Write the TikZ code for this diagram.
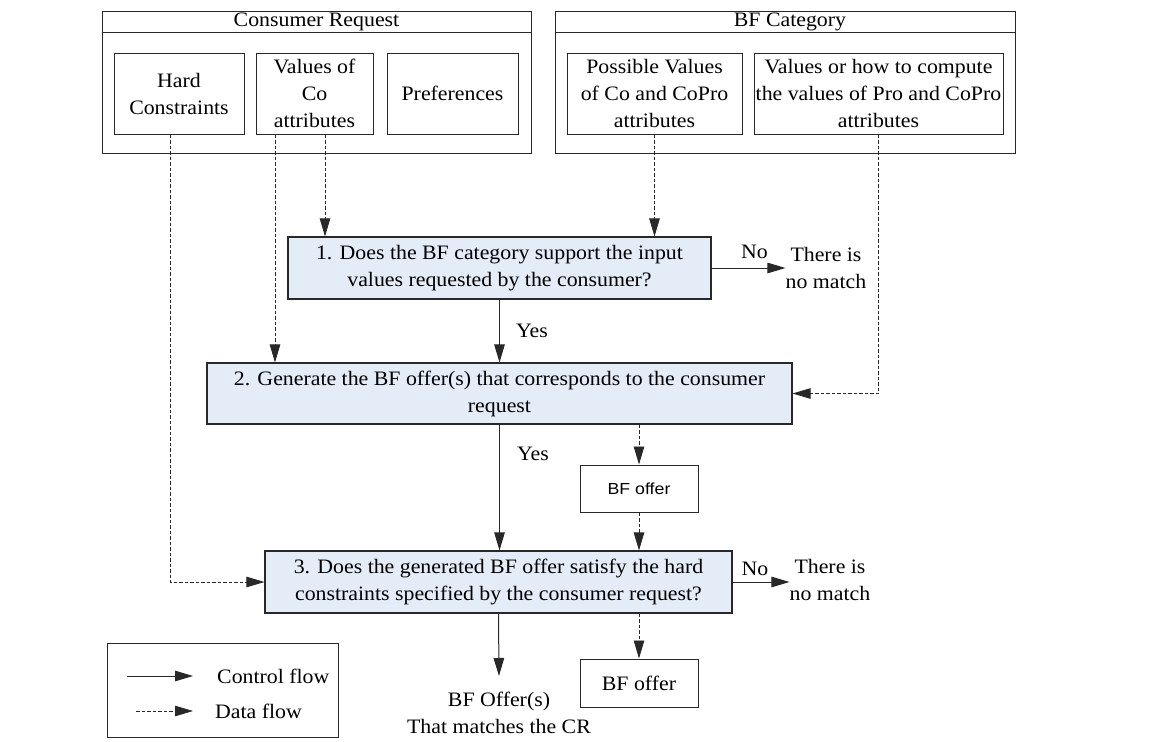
\documentclass[tikz,border=0pt]{standalone}
\usepackage{fontspec}
\setmainfont{Liberation Serif}[FakeStretch=1.065]
\newfontfamily\arialf{Liberation Sans}[FakeStretch=1.11]
\usetikzlibrary{arrows.meta,calc}
\definecolor{stepfill}{RGB}{228,236,247}
\definecolor{linec}{RGB}{40,40,40}
\begin{document}
\begin{tikzpicture}[x=1pt,y=-1pt,
  every node/.style={font=\fontsize{20.5pt}{27pt}\selectfont, inner sep=0pt, text=black},
  box/.style={draw=linec, line width=1pt, align=center},
  stepbox/.style={box, fill=stepfill, line width=1.1pt},
  ctrl/.style={draw=linec, line width=1pt, -{Triangle[length=18pt,width=10.5pt]}},
  data/.style={draw=linec, line width=0.8pt, dash pattern=on 3.5pt off 2pt, -{Triangle[length=18pt,width=10.5pt]}},
  lbl/.style={align=center}]
\useasboundingbox (0,0) rectangle (1171,742);

% Consumer Request group
\node[box, minimum width=429pt, minimum height=142pt] (cr) at (316.5,82) {};
\draw[linec, line width=1.6pt] ($(cr.north west)+(0,22)$) -- ($(cr.north east)+(0,22)$);
\node (crt) at (316.5,22) {Consumer Request};
\node[box, minimum width=130pt, minimum height=81pt] (hc) at (179,93.5) {Hard\\Constraints};
\node[box, minimum width=117pt, minimum height=81pt] (vc) at (314.5,93.5) {Values of\\Co\\attributes};
\node[box, minimum width=131pt, minimum height=81pt] (pref) at (452.5,93.5) {Preferences};

% BF Category group
\node[box, minimum width=460pt, minimum height=142pt] (bfc) at (785,82) {};
\draw[linec, line width=1.6pt] ($(bfc.north west)+(0,22)$) -- ($(bfc.north east)+(0,22)$);
\node (bfct) at (790,22) {BF Category};
\node[box, minimum width=175pt, minimum height=81pt] (pv) at (654.5,93.5) {Possible Values\\of Co and CoPro\\attributes};
\node[box, minimum width=249pt, minimum height=81pt] (vh) at (878.5,93.5) {Values or how to compute\\the values of Pro and CoPro\\attributes};

% Steps
\node[stepbox, minimum width=423pt, minimum height=62pt] (s1) at (499.5,268) {1. Does the BF category support the input\\values requested by the consumer?};
\node[lbl] (nm1) at (826,268) {There is\\no match};
\node[stepbox, minimum width=585pt, minimum height=61pt] (s2) at (499.5,393.5) {2. Generate the BF offer(s) that corresponds to the consumer\\request};
\node[box, minimum width=118pt, minimum height=47pt, font=\arialf\fontsize{16pt}{20pt}\selectfont] (bo1) at (639,488.5) {BF offer};
\node[stepbox, minimum width=467pt, minimum height=62pt] (s3) at (498.5,582) {3. Does the generated BF offer satisfy the hard\\constraints specified by the consumer request?};
\node[lbl] (nm2) at (830,580) {There is\\no match};
\node[lbl] (out) at (499,713) {BF Offer(s)\\That matches the CR};
\node[box, minimum width=118pt, minimum height=48pt] (bo2) at (639,683) {BF offer};

% Data flows from inputs
\draw[data] ([xshift=-9pt]hc.south) |- (s3.west);
\draw[data] ([xshift=-39.5pt]vc.south) -- ([xshift=-39.5pt]vc.south |- s2.north);
\draw[data] ([xshift=10.5pt]vc.south) -- ([xshift=10.5pt]vc.south |- s1.north);
\draw[data] (pv.south) -- (pv.south |- s1.north);
\draw[data] (vh.south) |- (s2.east);

% Control flow
\draw[ctrl] (s1.east) -- node[above=9pt, xshift=6pt] (no1) {No} (nm1.west);
\draw[ctrl] (s1.south) -- node[right=16pt] (yes1) {Yes} (s1.south |- s2.north);
\draw[ctrl] (s2.south) -- node[pos=0.23, right=17pt] (yes2) {Yes} (s2.south |- s3.north);
\draw[ctrl] (s3.east) -- node[above=6pt, xshift=-6pt] (no2) {No} (s3.east -| nm2.west);
\draw[ctrl] (s3.south) -- ([yshift=16pt]out.north);

% BF offer data flows
\draw[data] (s2.south -| bo1.north) -- (bo1.north);
\draw[data] (bo1.south) -- (bo1.south |- s3.north);
\draw[data] (s3.south -| bo2.north) -- (bo2.north);

% Legend
\node[box, minimum width=231pt, minimum height=94pt] (leg) at (222.5,690) {};
\coordinate (c1) at (127,676);
\coordinate (c2) at (193,676);
\coordinate (d1) at (136,711);
\coordinate (d2) at (193,711);
\draw[ctrl] (c1) -- (c2);
\draw[data] (d1) -- (d2);
\node[anchor=west] (lc) at (217,676) {Control flow};
\node[anchor=west] (ld) at (215,711) {Data flow};
\end{tikzpicture}
\end{document}
